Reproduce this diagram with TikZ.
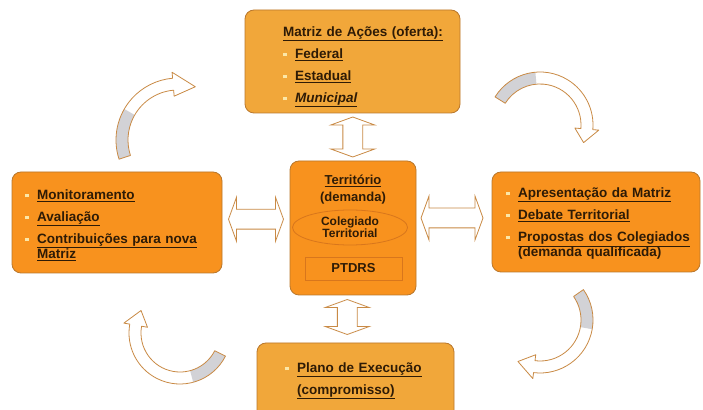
\documentclass[tikz,border=0pt]{standalone}
\usepackage{fontspec}
\setmainfont{Liberation Sans}
\usetikzlibrary{shapes.arrows,shapes.geometric,calc}

\definecolor{boxgold}{HTML}{F1A73A}
\definecolor{boxorange}{HTML}{F8921E}
\definecolor{boxline}{HTML}{B9772C}
\definecolor{txtcol}{HTML}{2E1B06}
\definecolor{arrline}{HTML}{C98A45}
\definecolor{bulcol}{HTML}{FBE7A8}
\definecolor{ellline}{HTML}{D8761C}
\definecolor{tailgrey}{HTML}{D2D2D6}

\newcommand{\bul}{{\color{bulcol}\rule[0.3ex]{3.5pt}{3.5pt}}}
\newcommand{\itm}[1]{\hangindent=12pt\hangafter=1\noindent\makebox[12pt][l]{\bul}#1}
\newcommand{\brk}{\hfil\break}
% curved arrow: centre, radius, tail angle, head angle, tip angle, end of grey part
\newcommand{\bentarrow}[6]{%
  \pgfmathsetmacro{\arOut}{#2+6}\pgfmathsetmacro{\arIn}{#2-6}%
  \pgfmathsetmacro{\hdOut}{#2+12}\pgfmathsetmacro{\hdIn}{#2-12}%
  \begin{scope}[shift={#1}]
    \fill[white] (#3:\arOut) arc[start angle=#3,end angle=#4,radius=\arOut] -- (#4:\hdOut) -- (#5:#2) -- (#4:\hdIn) -- (#4:\arIn) arc[start angle=#4,end angle=#3,radius=\arIn] -- cycle;
    \fill[tailgrey] (#3:\arOut) arc[start angle=#3,end angle=#6,radius=\arOut] -- (#6:\arIn) arc[start angle=#6,end angle=#3,radius=\arIn] -- cycle;
    \draw[arrline,line width=0.8pt,line join=round] (#3:\arOut) arc[start angle=#3,end angle=#4,radius=\arOut] -- (#4:\hdOut) -- (#5:#2) -- (#4:\hdIn) -- (#4:\arIn) arc[start angle=#4,end angle=#3,radius=\arIn] -- cycle;
  \end{scope}}

\tikzset{
  box/.style={draw=boxline,line width=0.8pt,rounded corners=9pt,fill=boxorange},
  goldbox/.style={box,fill=boxgold},
  txt/.style={font=\fontsize{13.5}{15}\selectfont\bfseries\setlength{\parskip}{7pt},text=txtcol,inner sep=0pt,anchor=north west},
  twoway/.style={double arrow,draw=arrline,fill=white,line width=0.8pt,double arrow head extend=12pt,double arrow tip angle=140,inner xsep=0pt,inner ysep=9.5pt}
}

\begin{document}
\begin{tikzpicture}[x=1pt,y=1pt]
\clip (0,0) rectangle (703,409);
\fill[white] (0,0) rectangle (703,409);

% boxes
\node[goldbox,minimum width=215pt,minimum height=103pt] (acoes) at (352.5,347.5) {};
\node[box,minimum width=210pt,minimum height=101pt] (monit) at (117,186.5) {};
\node[box,minimum width=126pt,minimum height=134pt] (terr) at (353,181) {};
\node[box,minimum width=208pt,minimum height=100pt] (apres) at (596,187) {};
\node[goldbox,minimum width=197pt,minimum height=90pt] (plano) at (355.5,21) {};

% texts
\node[txt,text width=175pt] (acoestxt) at (283,382.5) {\noindent\underline{Matriz de Ações (oferta):}\par\itm{\underline{Federal}}\par\itm{\underline{Estadual}}\par\itm{\underline{\itshape Municipal}}\par};
\node[txt,text width=195pt] (monittxt) at (25,219.5) {\itm{\underline{Monitoramento}}\par\itm{\underline{Avaliação}}\par\itm{\underline{Contribuições para nova}\brk\underline{Matriz}}\par};
\node[txt,text width=190pt] (aprestxt) at (506,221.5) {\itm{\underline{Apresentação da Matriz}}\par\itm{\underline{Debate Territorial}}\par\itm{\underline{Propostas dos Colegiados}\brk(demanda qualificada)}\par};
\node[txt,text width=185pt] (planotxt) at (285,46.5) {\itm{\underline{Plano de Execução}}\par\noindent\hspace*{12pt}\underline{(compromisso)}\par};

% centre
\node[font=\fontsize{13}{17}\selectfont\bfseries,text=txtcol,align=center,anchor=north,inner sep=0pt] (terrtxt) at (353,234) {\underline{Território}\\(demanda)};
\node[ellipse,draw=ellline,line width=0.8pt,minimum width=115pt,minimum height=35pt,inner sep=0pt,font=\fontsize{12}{11}\selectfont\bfseries,text=txtcol,align=center] (coleg) at (350,181.5) {Colegiado\\Territorial};
\node[draw=ellline,line width=0.8pt,minimum width=97pt,minimum height=23pt,inner sep=0pt,font=\fontsize{13}{15}\selectfont\bfseries,text=txtcol] (ptdrs) at (353.5,140.5) {PTDRS};

% two-way arrows
\node[twoway,rotate=90,minimum height=40pt] (upar) at ($(acoes.south)!0.5!(terr.north)$) {};
\node[twoway,rotate=90,minimum height=35pt] (downar) at ($(terr.south)!0.5!(plano.north)+(-7,2)$) {};
\node[twoway,minimum height=55pt] (leftar) at ($(monit.east)!0.5!(terr.west)+(0,6)$) {};
\node[twoway,minimum height=62pt] (rightar) at ($(terr.east)!0.5!(apres.west)+(-2,7)$) {};

% cycle arrows
\bentarrow{(178,269)}{56}{198}{95}{72}{150}
\bentarrow{(540,284)}{47}{148}{-5}{-22}{95}
\bentarrow{(540,89)}{47}{35}{-97}{-118}{-10}
\bentarrow{(180,76)}{45}{-27}{-190}{-210}{-75}
\end{tikzpicture}
\end{document}
